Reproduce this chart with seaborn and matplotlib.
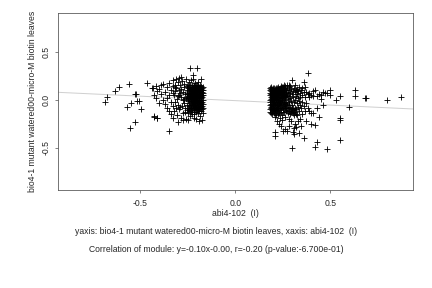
import numpy as np
import pandas as pd
import matplotlib
matplotlib.use("Agg")
import matplotlib.pyplot as plt
import seaborn as sns

# ---------------- data ----------------
neg_sparse = [(-0.684, -0.024), (-0.674, 0.028), (-0.631, 0.097), (-0.610, 0.132),
              (-0.558, 0.167), (-0.572, -0.076), (-0.551, -0.034), (-0.530, 0.063),
              (-0.521, 0.063), (-0.519, -0.017), (-0.508, -0.010), (-0.494, -0.094),
              (-0.528, -0.232), (-0.553, -0.292), (-0.465, 0.177), (-0.435, 0.122),
              (-0.426, -0.180), (-0.410, -0.190), (-0.347, -0.323), (-0.238, 0.330),
              (-0.203, 0.330), (-0.221, 0.260), (-0.19, -0.22), (-0.18, 0.22),
              (-0.205, -0.20), (-0.25, -0.21), (-0.235, 0.21), (-0.30, -0.23),
              (-0.33, -0.19), (-0.275, -0.21)]

neg_mid = [(-0.44, 0.12), (-0.43, 0.05), (-0.43, -0.17), (-0.42, 0.02), (-0.42, 0.14),
           (-0.41, 0.09), (-0.41, -0.19), (-0.40, 0.11), (-0.40, -0.03), (-0.39, 0.15),
           (-0.39, 0.06), (-0.38, 0.00), (-0.38, 0.17), (-0.37, -0.04), (-0.37, 0.08),
           (-0.36, 0.13), (-0.36, -0.08), (-0.36, 0.02), (-0.35, 0.18), (-0.35, -0.12),
           (-0.35, 0.05), (-0.34, 0.10), (-0.34, -0.02), (-0.34, -0.15), (-0.33, 0.21),
           (-0.33, 0.07), (-0.33, -0.06), (-0.33, 0.14)]

neg_inner = [(-0.325, 0.05), (-0.322, -0.12), (-0.320, 0.16), (-0.318, -0.02), (-0.316, 0.09),
             (-0.314, 0.22), (-0.312, -0.08), (-0.310, 0.12), (-0.308, 0.01), (-0.306, -0.16),
             (-0.304, 0.19), (-0.302, 0.04), (-0.300, -0.05), (-0.298, 0.23), (-0.296, 0.10),
             (-0.294, -0.10), (-0.292, 0.07), (-0.290, 0.15), (-0.288, -0.19), (-0.286, 0.03),
             (-0.284, 0.11), (-0.282, -0.06), (-0.280, 0.20), (-0.278, 0.08), (-0.276, -0.14),
             (-0.274, 0.00), (-0.272, 0.13), (-0.270, -0.03), (-0.268, 0.17), (-0.266, 0.06),
             (-0.264, -0.09), (-0.262, 0.22), (-0.260, 0.02), (-0.258, -0.20), (-0.315, 0.13),
             (-0.290, -0.07), (-0.270, 0.01), (-0.285, 0.24), (-0.265, -0.13), (-0.295, 0.05)]

neg_core = {
    -0.256: [0.10, 0.03, -0.05, 0.14, -0.11, 0.07],
    -0.250: [0.12, 0.06, -0.01, -0.08, 0.16, -0.14, 0.02],
    -0.245: [0.09, 0.04, -0.03, 0.13, -0.10, 0.19, -0.06, 0.00],
    -0.240: [0.11, 0.07, 0.01, -0.05, -0.12, 0.15, -0.17, 0.05],
    -0.235: [0.08, 0.02, -0.07, 0.13, -0.09, 0.10, 0.04, -0.13, -0.02],
    -0.230: [0.12, 0.06, -0.01, -0.04, 0.16, -0.11, 0.09, 0.03, -0.15],
    -0.225: [0.10, 0.05, -0.02, 0.13, -0.08, 0.07, -0.05, 0.01, 0.22],
    -0.220: [0.14, 0.08, 0.03, -0.03, 0.11, -0.10, 0.06, -0.13, 0.00, -0.19],
    -0.215: [0.09, 0.04, -0.01, -0.06, 0.12, -0.09, 0.15, 0.02, -0.15],
    -0.210: [0.11, 0.07, 0.02, -0.04, 0.13, -0.07, 0.05, -0.11, -0.02, 0.18],
    -0.205: [0.10, 0.05, 0.00, -0.05, 0.14, -0.09, 0.08, -0.13, 0.03],
    -0.200: [0.12, 0.06, 0.01, -0.03, 0.09, -0.07, 0.16, -0.11, -0.01, 0.04],
    -0.195: [0.08, 0.03, -0.02, 0.11, -0.06, 0.14, -0.10, 0.05, -0.14, 0.19],
    -0.190: [0.10, 0.06, 0.00, -0.04, 0.13, -0.08, 0.02, -0.12, 0.08],
    -0.185: [0.09, 0.04, -0.01, 0.12, -0.05, 0.16, -0.09, 0.06, -0.17],
    -0.180: [0.11, 0.07, 0.02, -0.03, 0.14, -0.07, -0.12, 0.04, 0.00],
    -0.175: [0.08, 0.03, -0.02, 0.12, -0.06, 0.10, -0.10, 0.05, -0.21],
    -0.170: [0.10, 0.05, 0.00, -0.04, 0.13, -0.08, 0.07, -0.14],
}

pos_core = {
    0.185: [0.10, 0.05, 0.00, -0.05, -0.10, 0.12, -0.13, 0.07, -0.02],
    0.190: [0.11, 0.06, 0.01, -0.04, -0.09, 0.09, -0.14, 0.03, -0.07, 0.13],
    0.195: [0.08, 0.04, -0.01, -0.06, 0.11, -0.11, 0.06, -0.15, 0.02],
    0.200: [0.12, 0.07, 0.02, -0.03, -0.08, 0.10, -0.12, 0.00, -0.05, 0.04],
    0.205: [0.09, 0.05, 0.00, -0.05, 0.12, -0.10, 0.07, -0.14, 0.02, -0.02],
    0.210: [0.11, 0.06, 0.01, -0.04, -0.09, 0.08, -0.13, 0.03, -0.33, -0.38, -0.18],
    0.215: [0.10, 0.04, -0.02, 0.08, -0.07, 0.12, -0.11, -0.16, 0.01, 0.06],
    0.220: [0.12, 0.07, 0.02, -0.03, -0.08, 0.10, -0.12, 0.05, -0.22, -0.05],
    0.225: [0.09, 0.03, -0.01, 0.11, -0.06, 0.13, -0.10, -0.15, 0.06],
    0.230: [0.11, 0.08, 0.03, -0.04, -0.09, 0.10, -0.14, 0.00, -0.25, 0.05],
    0.235: [0.10, 0.05, 0.00, -0.05, 0.12, -0.11, 0.07, -0.19, -0.02],
    0.240: [0.12, 0.06, 0.02, -0.03, -0.08, 0.14, -0.13, -0.27, 0.09],
    0.245: [0.10, 0.04, -0.01, 0.13, -0.07, -0.16, 0.07, -0.21, 0.01],
    0.250: [0.13, 0.08, 0.02, -0.04, -0.10, 0.11, -0.32, 0.05, -0.13],
    0.255: [0.09, 0.03, -0.02, 0.12, -0.06, -0.13, 0.16, 0.06],
    0.260: [0.11, 0.06, 0.00, -0.05, 0.14, -0.09, -0.18, -0.30, 0.03],
    0.265: [0.10, 0.04, -0.03, 0.07, -0.08, -0.12],
    0.270: [0.12, 0.05, -0.04, 0.15, -0.11, -0.32],
    0.275: [0.08, 0.01, -0.07, -0.14],
    0.280: [0.13, 0.04, -0.02, -0.12, -0.20],
    0.285: [0.10, -0.05, 0.16, -0.27],
    0.290: [0.07, 0.02, -0.09, -0.15, 0.14],
    0.295: [0.11, -0.01, -0.10, -0.13, -0.22],
    0.300: [0.21, 0.06, -0.05, -0.12, -0.08, -0.50],
    0.305: [0.09, 0.03, -0.09, -0.14, -0.34],
    0.310: [0.12, -0.02, -0.11, -0.16, -0.29, -0.36],
    0.315: [0.08, 0.00, -0.08, 0.15, -0.13, -0.25],
    0.320: [0.10, 0.04, -0.10, -0.28, -0.15],
    0.325: [0.06, -0.03, -0.16, 0.11],
    0.330: [0.09, 0.02, -0.07, -0.22],
    0.335: [0.13, -0.01, -0.12, -0.35],
    0.340: [0.07, 0.03, -0.05, -0.20],
    0.345: [0.10, -0.09, -0.27],
    0.350: [0.05, -0.02, 0.12, -0.15],
    0.360: [0.19, 0.08, -0.06, -0.40],
    0.365: [0.13, 0.03, -0.12],
    0.370: [0.08, -0.03, -0.22],
    0.380: [0.285, 0.06, -0.09],
    0.390: [0.07, -0.12, 0.03],
    0.400: [0.05, -0.25, -0.14],
    0.410: [0.09, 0.04, -0.14],
    0.420: [0.10, -0.26, -0.49],
    0.430: [0.04, -0.09, -0.44],
    0.440: [0.06, -0.18],
    0.450: [0.05, 0.01],
    0.460: [0.08, -0.055],
    0.470: [0.07],
    0.480: [0.07, -0.51],
    0.500: [0.10, 0.05],
    0.530: [0.00],
    0.550: [-0.19, -0.215, -0.42, 0.04],
    0.600: [-0.07],
    0.630: [0.10, 0.04],
    0.680: [0.02],
    0.690: [0.015],
    0.800: [0.00],
    0.870: [0.03],
}

fit_slope = -0.093
fit_intercept = -0.008

x_ticks = [-0.5, 0.0, 0.5]
y_ticks = [-0.5, 0.0, 0.5]
x_label = "abi4-102  (I)"
y_label = "bio4-1 mutant watered00-micro-M biotin leaves"
title_1 = "yaxis: bio4-1 mutant watered00-micro-M biotin leaves, xaxis: abi4-102  (I)"
title_2 = "Correlation of module: y=-0.10x-0.00, r=-0.20 (p-value:-6.700e-01)"

# ---------------- build table ----------------
pts = list(neg_sparse) + list(neg_mid) + list(neg_inner)
for xv, ys in list(neg_core.items()) + list(pos_core.items()):
    pts += [(xv, yv) for yv in ys]
df = pd.DataFrame(pts, columns=["x", "y"])

# ---------------- plot ----------------
sns.set_theme(style="white")
plt.rcParams["font.family"] = ["Liberation Sans", "DejaVu Sans"]
FS = 8.6

fig = plt.figure(figsize=(6, 4), dpi=72)
ax = fig.add_axes([57.5 / 432, 1 - 190 / 288, (413 - 57.5) / 432, (190 - 13) / 288])

ax.axline((0, fit_intercept), slope=fit_slope, color="#d0d0d0", lw=1.0, zorder=1)
sns.scatterplot(data=df, x="x", y="y", marker="+", color="black", s=26,
                linewidth=0.85, ax=ax, zorder=2)

ax.set_xlim(-0.936, 0.935)
ax.set_ylim(-0.94, 0.906)
ax.set_xticks(x_ticks)
ax.set_yticks(y_ticks)
ax.set_xticklabels([f"{v:.1f}" for v in x_ticks], fontsize=FS)
ax.set_yticklabels([f"{v:.1f}" for v in y_ticks], fontsize=FS, rotation=90, va="center")
ax.tick_params(axis="x", direction="out", length=3, width=0.6, color="#333333",
               bottom=True, pad=6)
ax.tick_params(axis="y", direction="out", length=3, width=0.6, color="#333333",
               left=True, pad=4)
for sp in ax.spines.values():
    sp.set_color("#555555")
    sp.set_linewidth(0.8)

ax.set_xlabel("")
ax.set_ylabel("")
fig.text((235.3) / 432, 1 - 214 / 288, x_label, ha="center", va="center", fontsize=FS)
fig.text(33 / 432, 1 - 101.5 / 288, y_label, ha="center", va="center", fontsize=FS,
         rotation=90)

fig.text(0.5, 1 - 232 / 288, title_1, ha="center", va="center", fontsize=FS)
fig.text(0.5, 1 - 249 / 288, title_2, ha="center", va="center", fontsize=FS)

fig.savefig("out.png", dpi=72)
